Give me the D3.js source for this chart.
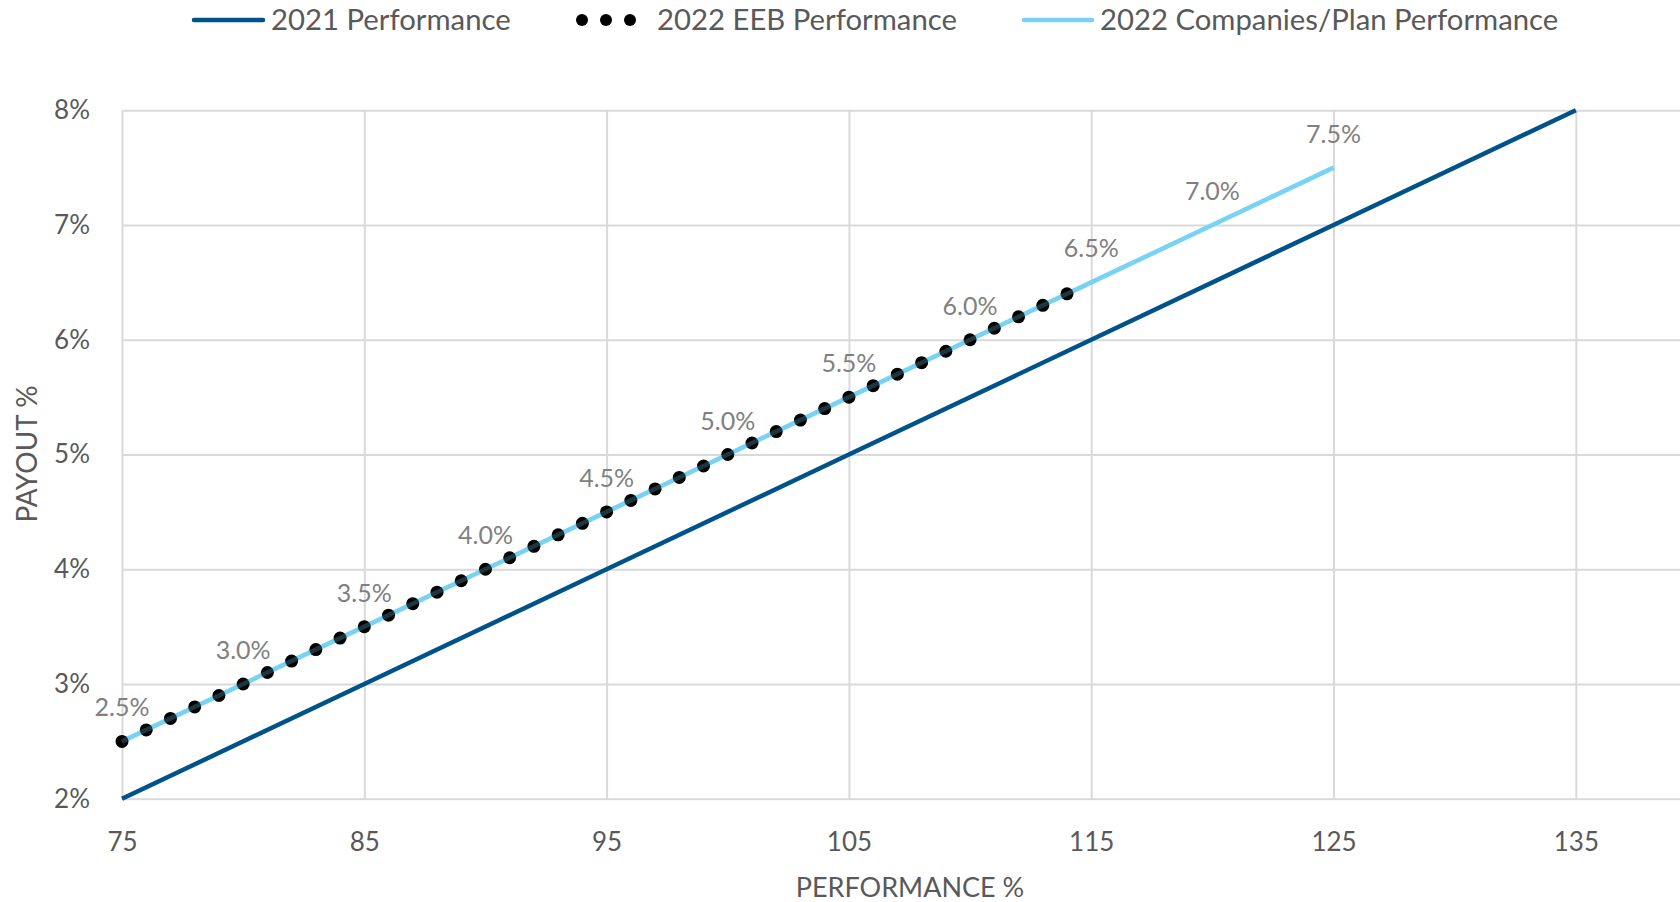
<!DOCTYPE html>
<html>
<head>
<meta charset="utf-8">
<script src="https://cdn.jsdelivr.net/npm/d3@7"></script>
<style>
  html, body { margin: 0; padding: 0; background: #fff; }
  svg { display: block; font-family: Lato, "Open Sans", sans-serif; }
</style>
</head>
<body>
<svg id="chart" width="1680" height="902"></svg>
<script>
// series data
const perf2021 = [75, 85, 95, 105, 115, 125, 135];
const payout2021 = [2, 3, 4, 5, 6, 7, 8];

const perfPlan = [75, 80, 85, 90, 95, 100, 105, 110, 115, 120, 125];
const payoutPlan = [2.5, 3.0, 3.5, 4.0, 4.5, 5.0, 5.5, 6.0, 6.5, 7.0, 7.5];

const perfEEB = [75, 76, 77, 78, 79, 80, 81, 82, 83, 84, 85, 86, 87, 88, 89, 90, 91, 92, 93, 94,
  95, 96, 97, 98, 99, 100, 101, 102, 103, 104, 105, 106, 107, 108, 109, 110, 111, 112, 113, 114];
const payoutEEB = [2.5, 2.6, 2.7, 2.8, 2.9, 3.0, 3.1, 3.2, 3.3, 3.4, 3.5, 3.6, 3.7, 3.8, 3.9, 4.0, 4.1, 4.2, 4.3, 4.4,
  4.5, 4.6, 4.7, 4.8, 4.9, 5.0, 5.1, 5.2, 5.3, 5.4, 5.5, 5.6, 5.7, 5.8, 5.9, 6.0, 6.1, 6.2, 6.3, 6.4];

const xTicks = [75, 85, 95, 105, 115, 125, 135];
const yTicks = [2, 3, 4, 5, 6, 7, 8];

const seriesNames = ['2021 Performance', '2022 EEB Performance', '2022 Companies/Plan Performance'];

const DARK = '#00538a';
const LIGHT = '#78d2f4';
const GRID = '#d9d9d9';
const TEXT = '#595959';
const LABEL = '#808080';

const svg = d3.select('#chart');
const plot = { left: 122, right: 1697, top: 110.25, bottom: 798.75 };

const x = d3.scaleLinear().domain([75, 140]).range([plot.left, plot.right]);
const y = d3.scaleLinear().domain([2, 8]).range([plot.bottom, plot.top]);

// gridlines
svg.append('g')
  .attr('transform', `translate(0,${plot.bottom})`)
  .call(d3.axisBottom(x).tickValues(xTicks).tickSize(-(plot.bottom - plot.top)).tickFormat(''))
  .call(g => g.select('.domain').remove())
  .call(g => g.selectAll('line').attr('stroke', GRID).attr('stroke-width', 2));

svg.append('g')
  .attr('transform', `translate(${plot.left},0)`)
  .call(d3.axisLeft(y).tickValues(yTicks).tickSize(-(plot.right - plot.left)).tickFormat(''))
  .call(g => g.select('.domain').remove())
  .call(g => g.selectAll('line').attr('stroke', GRID).attr('stroke-width', 2));

// tick labels
svg.append('g')
  .attr('transform', `translate(0,${plot.bottom})`)
  .call(d3.axisBottom(x).tickValues(xTicks).tickSize(0).tickPadding(34).tickFormat(d => d))
  .call(g => g.select('.domain').remove())
  .call(g => g.selectAll('text')
    .attr('fill', TEXT).style('font-size', '26px').style('font-family', 'Lato, sans-serif'));

svg.append('g')
  .attr('transform', `translate(${plot.left},0)`)
  .call(d3.axisLeft(y).tickValues(yTicks).tickSize(0).tickPadding(32).tickFormat(d => d + '%'))
  .call(g => g.select('.domain').remove())
  .call(g => g.selectAll('text')
    .attr('fill', TEXT).style('font-size', '26px').style('font-family', 'Lato, sans-serif'));

// axis titles
svg.append('text')
  .attr('x', 910).attr('y', 897)
  .attr('text-anchor', 'middle')
  .attr('fill', TEXT).style('font-size', '27px')
  .text('PERFORMANCE %');

svg.append('text')
  .attr('transform', 'translate(37,454) rotate(-90)')
  .attr('text-anchor', 'middle')
  .attr('fill', TEXT).style('font-size', '28px')
  .text('PAYOUT %');

const line = d3.line().x(d => x(d[0])).y(d => y(d[1]));

// 2021 line
svg.append('path')
  .datum(perf2021.map((p, i) => [p, payout2021[i]]))
  .attr('fill', 'none').attr('stroke', DARK).attr('stroke-width', 4.5)
  .attr('d', line);

// companies / plan line
const planData = perfPlan.map((p, i) => [p, payoutPlan[i]]);
svg.append('path')
  .datum(planData)
  .attr('fill', 'none').attr('stroke', LIGHT).attr('stroke-width', 4.5)
  .attr('d', line);

// EEB dots
svg.append('g').selectAll('circle')
  .data(perfEEB.map((p, i) => [p, payoutEEB[i]]))
  .join('circle')
  .attr('cx', d => x(d[0])).attr('cy', d => y(d[1]))
  .attr('r', 6.5).attr('fill', '#000');

// light line shows faintly through the dots
svg.append('path')
  .datum(planData)
  .attr('fill', 'none').attr('stroke', LIGHT).attr('stroke-width', 4.5).attr('opacity', 0.25)
  .attr('d', line);

// data labels
svg.append('g').selectAll('text')
  .data(planData)
  .join('text')
  .attr('x', d => x(d[0])).attr('y', d => y(d[1]) - 25)
  .attr('text-anchor', 'middle')
  .attr('fill', LABEL).style('font-size', '25px')
  .text(d => d[1].toFixed(1) + '%');

// legend
const legend = svg.append('g');
legend.append('line')
  .attr('x1', 194).attr('x2', 263).attr('y1', 20).attr('y2', 20)
  .attr('stroke', DARK).attr('stroke-width', 4.5).attr('stroke-linecap', 'round');
legend.append('text').attr('x', 271).attr('y', 30)
  .attr('fill', TEXT).style('font-size', '29.3px').text(seriesNames[0]);

legend.selectAll('circle.leg')
  .data([582, 606, 630])
  .join('circle')
  .attr('class', 'leg')
  .attr('cx', d => d).attr('cy', 20).attr('r', 6).attr('fill', '#000');
legend.append('text').attr('x', 657).attr('y', 30)
  .attr('fill', TEXT).style('font-size', '29.3px').text(seriesNames[1]);

legend.append('line')
  .attr('x1', 1024).attr('x2', 1092).attr('y1', 20).attr('y2', 20)
  .attr('stroke', LIGHT).attr('stroke-width', 4.5).attr('stroke-linecap', 'round');
legend.append('text').attr('x', 1100).attr('y', 30)
  .attr('fill', TEXT).style('font-size', '29.3px').text(seriesNames[2]);
</script>
</body>
</html>
